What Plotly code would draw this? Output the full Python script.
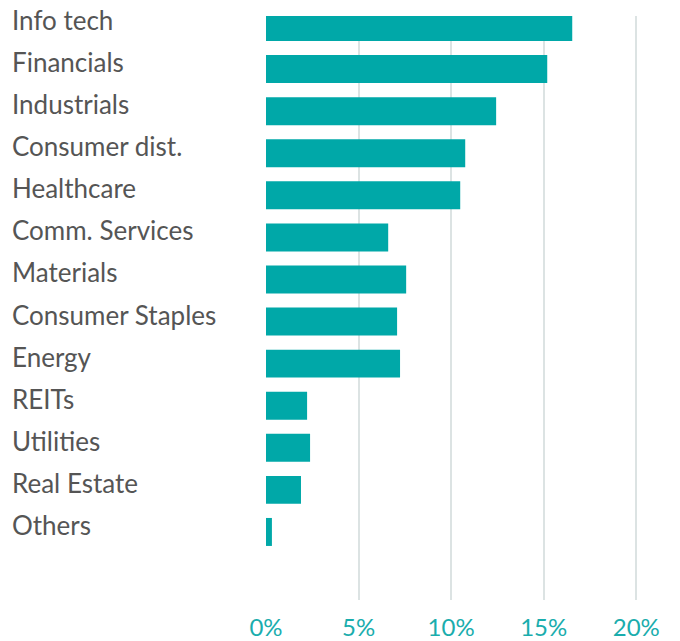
import plotly.graph_objects as go

categories = ["Info tech", "Financials", "Industrials", "Consumer dist.", "Healthcare",
              "Comm. Services", "Materials", "Consumer Staples", "Energy", "REITs",
              "Utilities", "Real Estate", "Others"]
values = [16.54, 15.19, 12.43, 10.76, 10.49, 6.6, 7.57, 7.08, 7.24, 2.22, 2.38, 1.89, 0.32]
tick_vals = [0, 5, 10, 15, 20]
tick_text = ["0%", "5%", "10%", "15%", "20%"]

# page body adds an 8px offset
W, H = 672, 633
L, R, T, B = 258, 20, 8, 41
PW = W - L - R
xmax = PW / 18.515

positions = list(range(len(categories)))

fig = go.Figure()
fig.add_trace(go.Bar(
    x=values, y=positions, orientation="h",
    marker=dict(color="#00A8A8", line=dict(width=0)),
    width=0.665, hoverinfo="skip",
))

for i, c in enumerate(categories):
    fig.add_annotation(
        x=(2 - L) / PW, xref="paper", y=i, yref="y",
        text=c, showarrow=False, xanchor="left", yanchor="middle", yshift=7,
        font=dict(family="Lato", size=26, color="#555555"),
    )

fig.update_layout(
    width=W, height=H,
    margin=dict(l=L, r=R, t=T, b=B, pad=0, autoexpand=False),
    paper_bgcolor="white", plot_bgcolor="white",
    showlegend=False,
    bargap=0.335,
    xaxis=dict(
        range=[0, xmax], tickvals=tick_vals, ticktext=tick_text,
        showgrid=True, gridcolor="#DCE3E3", gridwidth=1.5,
        zeroline=False, showline=False, ticks="",
        tickfont=dict(family="Lato", size=24, color="#1AADAD"),
        ticklabelstandoff=11, automargin=False,
    ),
    yaxis=dict(
        range=[13.617, -0.261], showticklabels=False, showgrid=False,
        zeroline=False, showline=False, ticks="", automargin=False,
    ),
)

fig.write_html("out.html")
